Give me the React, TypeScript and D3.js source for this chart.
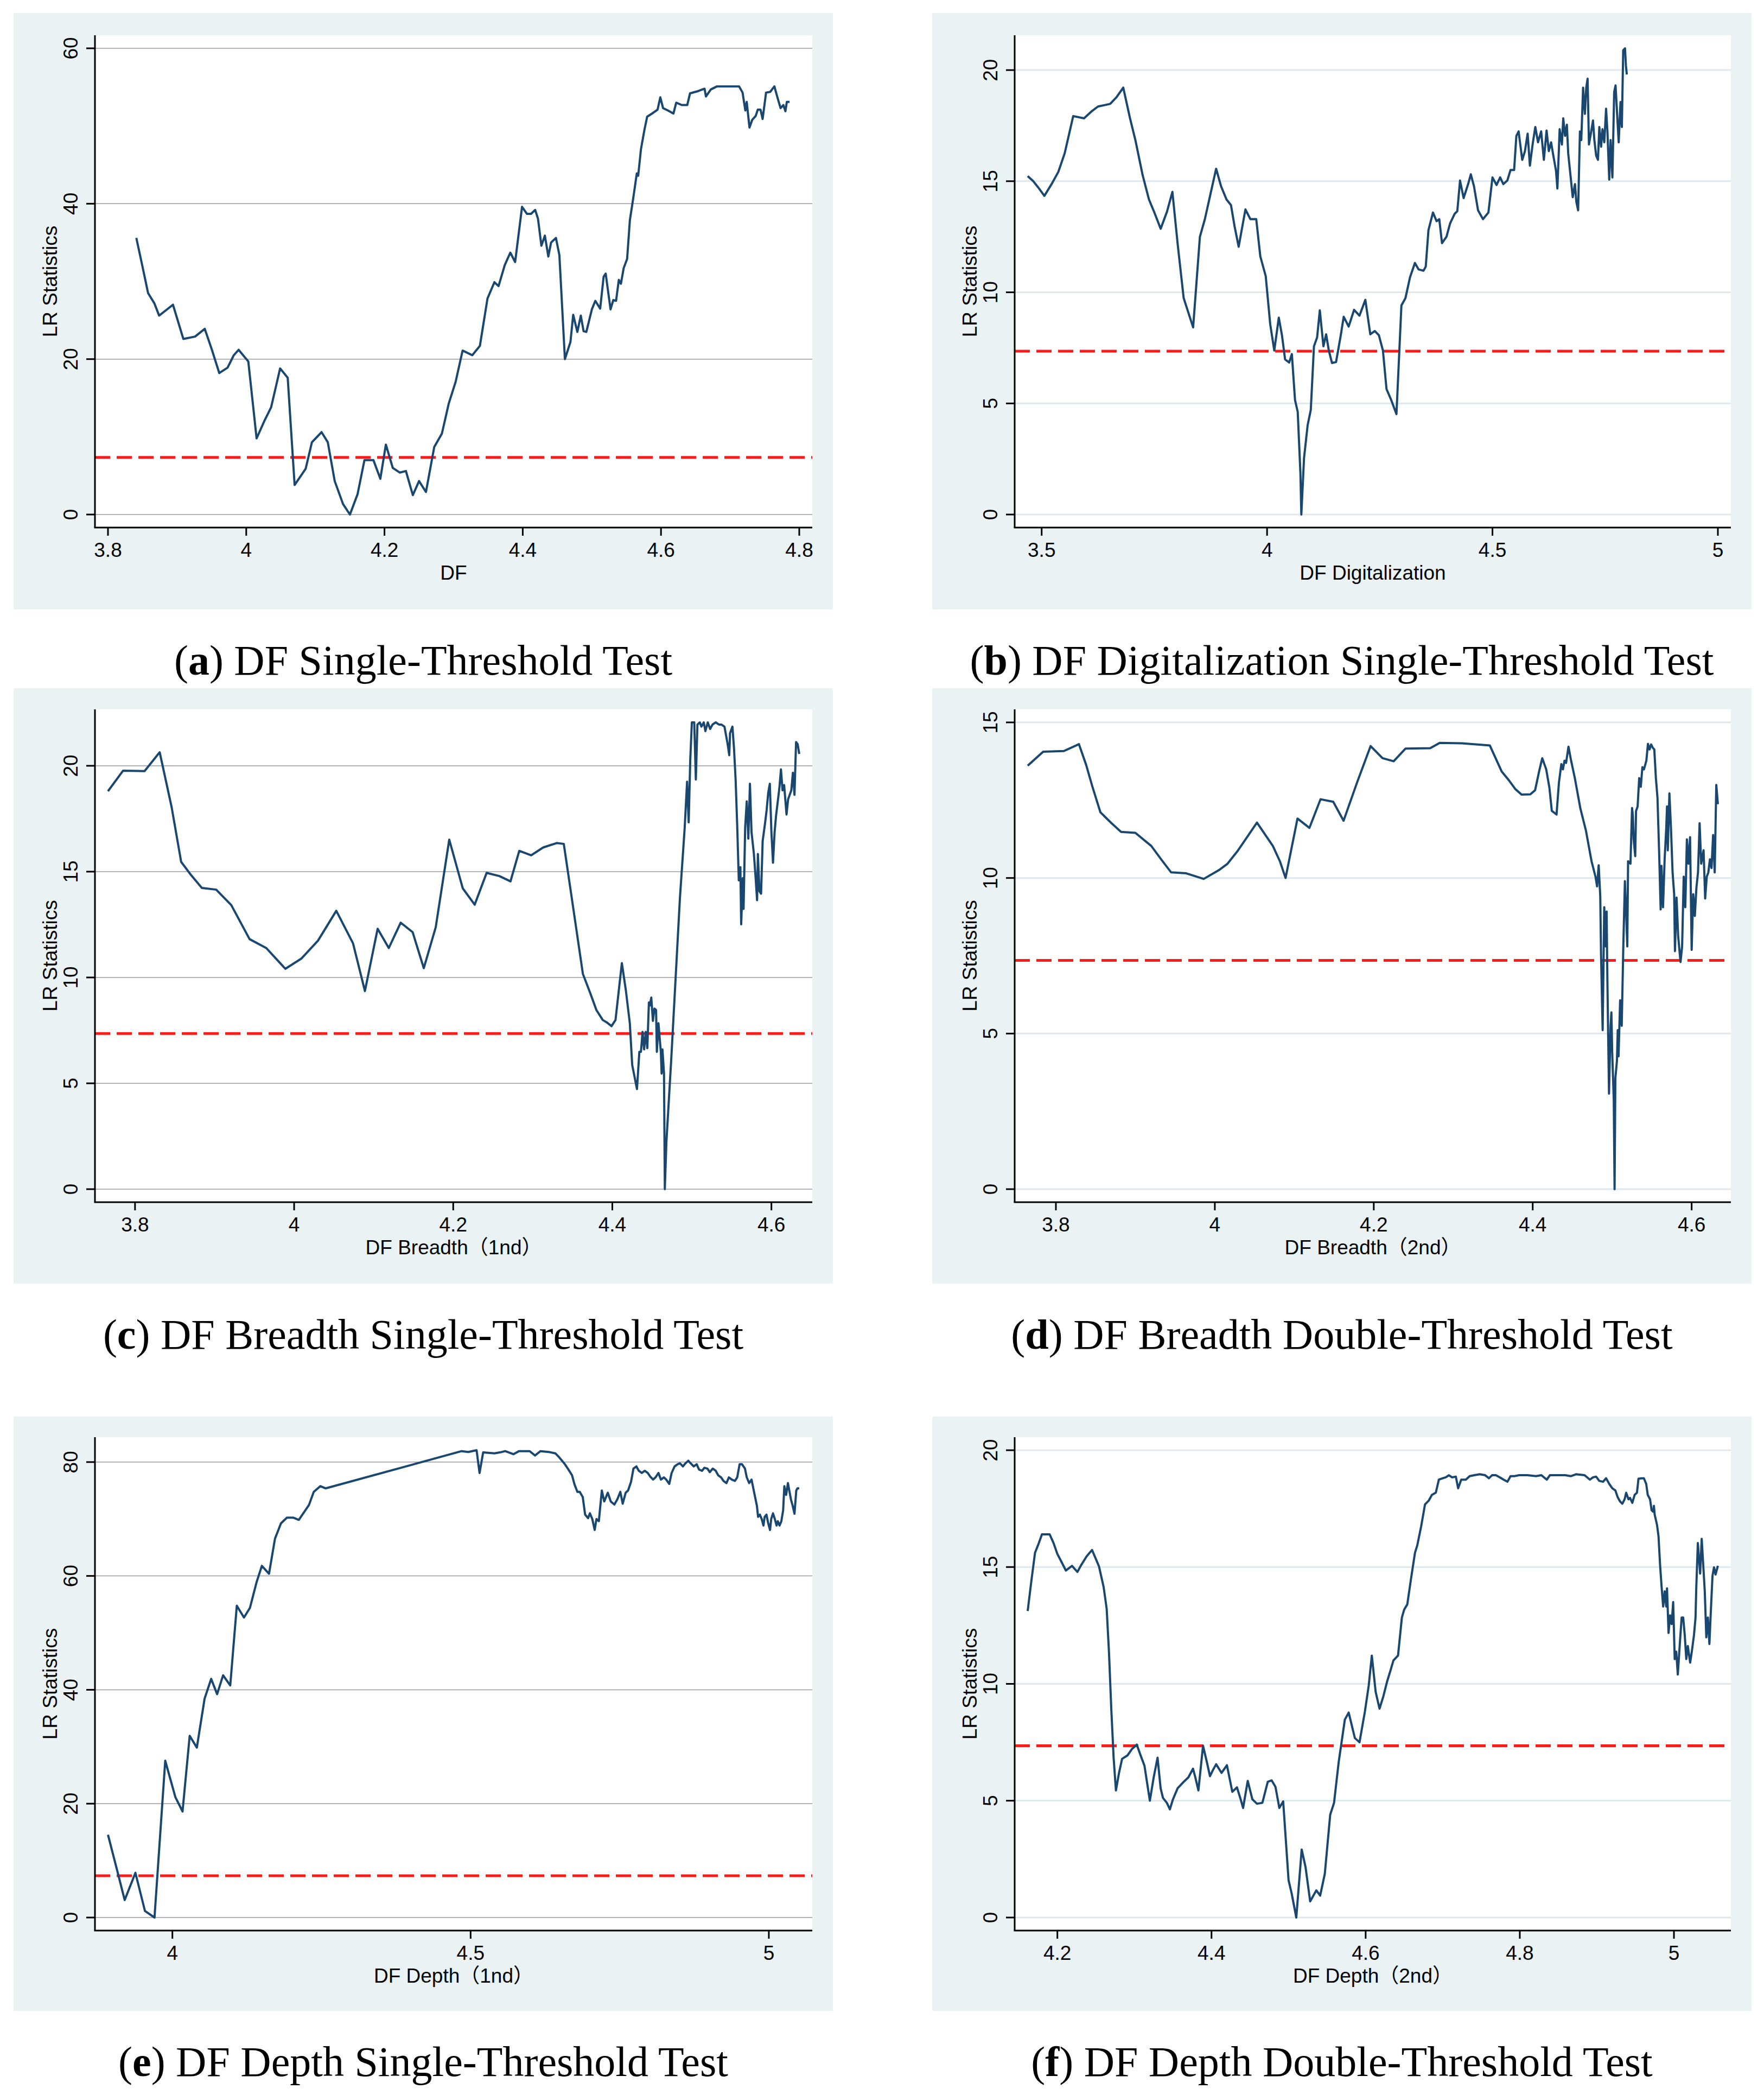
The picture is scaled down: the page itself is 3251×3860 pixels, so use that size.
import { useEffect } from "react";
import * as d3 from "d3";

type Pt = [number, number];

// LR statistic profiles
const dfSingle: Pt[] = [
  [3.841, 35.6], [3.849, 32.3], [3.858, 28.5], [3.867, 27.2], [3.874, 25.6], [3.894, 27.0], [3.909, 22.6],
  [3.926, 22.9], [3.94, 23.9], [3.95, 21.3], [3.961, 18.2], [3.973, 18.9], [3.982, 20.5], [3.989, 21.2],
  [4.003, 19.7], [4.015, 9.8], [4.026, 12.0], [4.036, 13.8], [4.049, 18.8], [4.06, 17.6], [4.07, 3.8],
  [4.086, 5.9], [4.095, 9.3], [4.109, 10.6], [4.118, 9.3], [4.128, 4.3], [4.14, 1.35], [4.15, 0],
  [4.161, 2.6], [4.171, 7.0], [4.184, 7.0], [4.194, 4.6], [4.202, 9.0], [4.212, 6.0], [4.222, 5.4],
  [4.231, 5.6], [4.241, 2.5], [4.25, 4.3], [4.26, 2.9], [4.272, 8.7], [4.283, 10.4], [4.293, 14.3],
  [4.303, 17.1], [4.313, 21.1], [4.327, 20.5], [4.338, 21.7], [4.349, 27.8], [4.359, 29.9], [4.365, 29.4],
  [4.374, 32.1], [4.382, 33.7], [4.389, 32.5], [4.399, 39.6], [4.406, 38.7], [4.412, 38.7], [4.418, 39.2],
  [4.422, 38.1], [4.427, 34.6], [4.432, 35.9], [4.437, 33.2], [4.441, 35.0], [4.448, 35.6], [4.453, 33.4],
  [4.461, 20.0], [4.469, 22.2], [4.473, 25.7], [4.479, 23.5], [4.484, 25.6], [4.488, 23.6], [4.492, 23.5],
  [4.5, 26.4], [4.505, 27.5], [4.512, 26.5], [4.517, 30.6], [4.52, 31.0], [4.527, 26.4], [4.531, 27.6],
  [4.535, 27.5], [4.539, 30.2], [4.542, 29.7], [4.546, 31.7], [4.551, 32.9], [4.555, 37.9], [4.56, 40.8],
  [4.565, 43.9], [4.567, 43.6], [4.571, 47.0], [4.576, 49.5], [4.58, 51.2], [4.587, 51.6], [4.595, 52.1],
  [4.599, 53.7], [4.603, 52.3], [4.61, 52.0], [4.618, 51.6], [4.622, 53.0], [4.63, 52.7], [4.638, 52.7],
  [4.642, 54.2], [4.654, 54.5], [4.663, 54.8], [4.665, 53.8], [4.672, 54.7], [4.681, 55.1], [4.713, 55.1],
  [4.718, 54.3], [4.722, 52.0], [4.724, 53.1], [4.728, 49.8], [4.732, 50.8], [4.737, 51.3], [4.74, 52.1],
  [4.744, 52.1], [4.747, 50.9], [4.752, 54.3], [4.758, 54.4], [4.764, 55.1], [4.769, 53.5], [4.773, 52.3],
  [4.777, 52.7], [4.78, 51.9], [4.782, 53.1], [4.786, 53.1],
];

const dfDigital: Pt[] = [
  [3.469, 15.23], [3.481, 15.01], [3.492, 14.73], [3.506, 14.34], [3.522, 14.87], [3.537, 15.42],
  [3.551, 16.25], [3.57, 17.93], [3.594, 17.83], [3.61, 18.13], [3.625, 18.36], [3.652, 18.48],
  [3.666, 18.78], [3.681, 19.21], [3.696, 17.83], [3.708, 16.84], [3.724, 15.27], [3.738, 14.18],
  [3.75, 13.59], [3.764, 12.86], [3.778, 13.63], [3.79, 14.52], [3.802, 12.11], [3.815, 9.74],
  [3.836, 8.42], [3.851, 12.5], [3.862, 13.29], [3.874, 14.38], [3.887, 15.56], [3.898, 14.77],
  [3.91, 14.18], [3.92, 13.92], [3.928, 12.96], [3.937, 12.05], [3.952, 13.73], [3.963, 13.29],
  [3.976, 13.29], [3.985, 11.62], [3.997, 10.73], [4.007, 8.56], [4.016, 7.38], [4.026, 8.86],
  [4.033, 8.07], [4.04, 6.98], [4.049, 6.84], [4.055, 7.22], [4.062, 5.15], [4.068, 4.62], [4.074, 1.85],
  [4.076, 0], [4.082, 2.54], [4.09, 4.02], [4.097, 4.71], [4.104, 7.57], [4.111, 7.97], [4.117, 9.19],
  [4.125, 7.57], [4.131, 8.11], [4.137, 7.38], [4.144, 6.82], [4.153, 6.86], [4.163, 8.01], [4.17, 8.9],
  [4.181, 8.46], [4.193, 9.21], [4.205, 8.95], [4.218, 9.66], [4.229, 8.11], [4.239, 8.26], [4.248, 8.07],
  [4.257, 7.38], [4.265, 5.64], [4.275, 5.17], [4.287, 4.52], [4.298, 9.41], [4.307, 9.74], [4.317, 10.67],
  [4.328, 11.32], [4.336, 11.03], [4.347, 10.97], [4.352, 11.16], [4.358, 12.8], [4.368, 13.59],
  [4.376, 13.2], [4.382, 13.29], [4.388, 12.21], [4.398, 12.5], [4.406, 13.1], [4.416, 13.53],
  [4.422, 13.65], [4.428, 15.03], [4.436, 14.24], [4.446, 14.87], [4.452, 15.31], [4.459, 14.77],
  [4.468, 13.69], [4.479, 13.29], [4.491, 13.59], [4.5, 15.17], [4.509, 14.83], [4.517, 15.17],
  [4.524, 14.87], [4.533, 15.03], [4.54, 15.5], [4.548, 15.5], [4.553, 17.04], [4.558, 17.24],
  [4.566, 15.96], [4.572, 16.35], [4.578, 17.14], [4.583, 15.7], [4.589, 16.65], [4.595, 17.44],
  [4.601, 16.75], [4.608, 17.24], [4.614, 15.96], [4.62, 17.28], [4.625, 16.35], [4.63, 16.75],
  [4.635, 16.15], [4.641, 15.46], [4.644, 14.67], [4.649, 17.34], [4.654, 16.65], [4.657, 17.83],
  [4.661, 17.04], [4.665, 17.54], [4.668, 16.25], [4.673, 15.27], [4.678, 14.28], [4.683, 14.87],
  [4.686, 14.08], [4.69, 13.69], [4.694, 17.24], [4.697, 16.85], [4.701, 19.21], [4.705, 18.03],
  [4.708, 19.21], [4.711, 19.61], [4.714, 16.65], [4.719, 17.24], [4.723, 17.73], [4.726, 16.85],
  [4.73, 16.15], [4.734, 15.96], [4.737, 17.44], [4.741, 16.55], [4.744, 17.34], [4.748, 16.75],
  [4.752, 18.26], [4.755, 17.24], [4.759, 15.07], [4.762, 16.85], [4.766, 15.17], [4.77, 19.01],
  [4.773, 19.31], [4.777, 17.83], [4.78, 16.75], [4.784, 18.56], [4.787, 17.44], [4.79, 20.89],
  [4.794, 20.98], [4.796, 20.2], [4.798, 19.8],
];

const dfBreadth1: Pt[] = [
  [3.766, 18.8], [3.785, 19.77], [3.812, 19.75], [3.831, 20.64], [3.846, 18.05], [3.858, 15.46],
  [3.87, 14.86], [3.884, 14.23], [3.902, 14.15], [3.921, 13.42], [3.944, 11.81], [3.965, 11.39],
  [3.989, 10.41], [4.009, 10.89], [4.03, 11.74], [4.053, 13.15], [4.074, 11.62], [4.089, 9.36],
  [4.105, 12.3], [4.119, 11.39], [4.134, 12.59], [4.149, 12.14], [4.163, 10.44], [4.178, 12.37],
  [4.195, 16.51], [4.212, 14.21], [4.227, 13.44], [4.242, 14.94], [4.258, 14.79], [4.272, 14.54],
  [4.283, 15.98], [4.298, 15.77], [4.313, 16.14], [4.33, 16.35], [4.339, 16.31], [4.349, 13.76],
  [4.363, 10.17], [4.372, 9.29], [4.38, 8.46], [4.388, 7.99], [4.393, 7.88], [4.399, 7.7], [4.404, 7.99],
  [4.412, 10.68], [4.417, 9.4], [4.422, 7.84], [4.425, 5.87], [4.431, 4.73], [4.434, 6.49], [4.436, 6.49],
  [4.438, 7.43], [4.44, 6.6], [4.442, 7.43], [4.444, 6.66], [4.446, 8.82], [4.447, 8.67], [4.449, 9.05],
  [4.451, 7.95], [4.453, 8.53], [4.455, 8.46], [4.456, 6.49], [4.458, 7.84], [4.461, 6.49], [4.462, 5.46],
  [4.463, 6.6], [4.465, 5.46], [4.466, 0], [4.468, 2.24], [4.474, 6.08], [4.485, 13.76], [4.491, 17.08],
  [4.494, 19.25], [4.496, 17.33], [4.498, 20.29], [4.5, 22.05], [4.503, 22.05], [4.505, 19.35],
  [4.507, 21.95], [4.51, 22.05], [4.512, 21.85], [4.515, 22.05], [4.517, 21.64], [4.52, 22.05],
  [4.523, 21.74], [4.526, 21.95], [4.53, 22.05], [4.534, 21.95], [4.537, 21.95], [4.541, 21.85],
  [4.545, 21.02], [4.547, 20.5], [4.548, 21.54], [4.551, 21.85], [4.553, 20.81], [4.555, 19.35],
  [4.557, 17.18], [4.559, 14.59], [4.561, 15.21], [4.562, 12.51], [4.564, 14.69], [4.565, 13.24],
  [4.567, 17.08], [4.569, 18.32], [4.571, 16.56], [4.573, 19.15], [4.575, 16.87], [4.578, 15.83],
  [4.58, 14.79], [4.582, 13.65], [4.583, 15.83], [4.585, 14.07], [4.587, 13.96], [4.589, 16.45],
  [4.592, 17.28], [4.594, 17.91], [4.596, 18.73], [4.598, 19.15], [4.6, 16.87], [4.602, 15.42],
  [4.604, 16.87], [4.606, 17.7], [4.608, 18.32], [4.61, 18.94], [4.612, 19.83], [4.614, 18.84],
  [4.616, 19.09], [4.619, 17.7], [4.621, 18.42], [4.623, 18.63], [4.625, 18.84], [4.627, 19.67],
  [4.629, 18.63], [4.631, 21.12], [4.633, 21.02], [4.635, 20.56],
];

const dfBreadth2: Pt[] = [
  [3.7645, 13.61], [3.784, 14.06], [3.81, 14.08], [3.829, 14.3], [3.838, 13.64], [3.846, 12.93],
  [3.856, 12.11], [3.87, 11.76], [3.882, 11.48], [3.9, 11.45], [3.92, 11.03], [3.933, 10.58],
  [3.945, 10.18], [3.964, 10.15], [3.986, 9.97], [4.005, 10.25], [4.016, 10.46], [4.029, 10.88],
  [4.053, 11.78], [4.073, 11.03], [4.082, 10.53], [4.089, 10.0], [4.104, 11.91], [4.119, 11.61],
  [4.133, 12.53], [4.149, 12.45], [4.162, 11.84], [4.179, 13.07], [4.196, 14.24], [4.211, 13.85],
  [4.225, 13.75], [4.24, 14.16], [4.271, 14.17], [4.283, 14.34], [4.311, 14.33], [4.346, 14.26],
  [4.361, 13.42], [4.37, 13.14], [4.378, 12.86], [4.386, 12.68], [4.397, 12.69], [4.403, 12.82],
  [4.408, 13.42], [4.412, 13.85], [4.417, 13.49], [4.421, 12.9], [4.424, 12.16], [4.43, 12.04],
  [4.433, 13.07], [4.436, 13.66], [4.438, 13.49], [4.44, 13.77], [4.442, 13.7], [4.445, 14.22],
  [4.448, 13.81], [4.453, 13.21], [4.46, 12.23], [4.467, 11.52], [4.474, 10.54], [4.479, 10.04],
  [4.481, 9.73], [4.483, 10.41], [4.485, 9.41], [4.486, 7.51], [4.488, 5.11], [4.49, 9.06], [4.492, 7.8],
  [4.493, 8.92], [4.494, 6.66], [4.496, 3.07], [4.498, 5.25], [4.499, 5.68], [4.5, 4.41], [4.502, 2.86],
  [4.503, 0], [4.504, 3.56], [4.506, 4.13], [4.507, 5.11], [4.508, 4.27], [4.51, 6.07], [4.512, 5.25],
  [4.514, 7.8], [4.516, 9.9], [4.518, 8.56], [4.519, 7.8], [4.52, 10.54], [4.523, 10.46], [4.525, 12.25],
  [4.526, 12.01], [4.527, 11.24], [4.529, 10.7], [4.53, 12.15], [4.532, 12.3], [4.534, 13.21],
  [4.536, 12.93], [4.538, 13.56], [4.54, 13.49], [4.543, 13.77], [4.545, 14.31], [4.547, 14.13],
  [4.549, 14.29], [4.551, 14.19], [4.553, 14.13], [4.555, 13.21], [4.557, 12.58], [4.559, 10.89],
  [4.561, 8.99], [4.562, 10.39], [4.564, 9.06], [4.566, 10.6], [4.568, 11.59], [4.569, 12.3],
  [4.57, 10.89], [4.572, 12.72], [4.574, 11.59], [4.576, 10.18], [4.578, 9.48], [4.579, 7.65],
  [4.581, 9.37], [4.583, 8.14], [4.586, 7.3], [4.588, 7.8], [4.59, 10.04], [4.592, 9.06], [4.594, 11.24],
  [4.596, 10.46], [4.598, 11.31], [4.6, 7.69], [4.602, 9.48], [4.604, 8.78], [4.606, 9.69], [4.608, 10.18],
  [4.61, 11.76], [4.612, 10.46], [4.615, 10.89], [4.617, 9.34], [4.619, 10.04], [4.621, 10.18],
  [4.623, 10.6], [4.625, 10.32], [4.627, 11.38], [4.629, 10.18], [4.631, 12.99], [4.633, 12.37],
];

const dfDepth1: Pt[] = [
  [3.892, 14.54], [3.906, 8.85], [3.92, 3.08], [3.938, 7.85], [3.954, 1.15], [3.97, 0], [3.988, 27.54],
  [4.005, 21.15], [4.017, 18.62], [4.029, 31.92], [4.041, 29.85], [4.054, 38.46], [4.065, 41.92],
  [4.075, 39.23], [4.085, 42.54], [4.097, 40.77], [4.108, 54.77], [4.12, 52.69], [4.13, 54.38],
  [4.141, 58.85], [4.15, 61.77], [4.162, 60.38], [4.172, 66.54], [4.182, 69.23], [4.192, 70.23],
  [4.203, 70.23], [4.212, 69.85], [4.229, 72.46], [4.237, 74.77], [4.248, 75.77], [4.257, 75.38],
  [4.485, 81.92], [4.496, 81.77], [4.51, 82.08], [4.515, 78.08], [4.521, 81.69], [4.54, 81.54],
  [4.549, 81.69], [4.558, 81.92], [4.572, 81.38], [4.581, 81.92], [4.599, 81.92], [4.608, 81.15],
  [4.617, 81.92], [4.631, 81.77], [4.642, 81.54], [4.649, 80.77], [4.657, 79.77], [4.663, 78.85],
  [4.67, 77.69], [4.674, 76.15], [4.679, 74.77], [4.683, 74.77], [4.688, 73.85], [4.692, 70.77],
  [4.697, 70.15], [4.7, 71.0], [4.704, 70.0], [4.708, 68.08], [4.711, 70.0], [4.715, 69.62], [4.72, 75.0],
  [4.724, 73.08], [4.73, 74.62], [4.735, 73.08], [4.741, 72.54], [4.746, 73.46], [4.751, 74.77],
  [4.755, 72.69], [4.76, 74.62], [4.764, 75.0], [4.769, 76.54], [4.773, 78.85], [4.778, 79.23],
  [4.782, 78.46], [4.787, 78.08], [4.792, 78.46], [4.797, 78.08], [4.801, 77.46], [4.806, 76.92],
  [4.81, 77.31], [4.815, 78.08], [4.819, 76.92], [4.824, 77.31], [4.828, 76.92], [4.833, 76.15],
  [4.837, 78.08], [4.842, 79.23], [4.847, 79.62], [4.851, 79.77], [4.856, 79.23], [4.86, 79.77],
  [4.865, 80.23], [4.869, 79.77], [4.874, 79.23], [4.879, 79.62], [4.883, 78.69], [4.888, 78.46],
  [4.892, 79.0], [4.897, 78.85], [4.901, 78.23], [4.906, 78.85], [4.911, 78.46], [4.915, 77.69],
  [4.92, 77.31], [4.924, 76.69], [4.929, 76.31], [4.933, 77.31], [4.938, 76.92], [4.943, 76.69],
  [4.947, 77.31], [4.951, 79.62], [4.955, 79.62], [4.96, 78.85], [4.963, 77.31], [4.967, 76.31],
  [4.971, 76.92], [4.974, 75.38], [4.977, 73.85], [4.98, 72.31], [4.982, 70.38], [4.985, 70.77],
  [4.988, 70.0], [4.991, 68.85], [4.993, 70.38], [4.996, 70.77], [4.999, 69.23], [5.002, 68.08],
  [5.004, 70.0], [5.007, 71.0], [5.01, 70.0], [5.013, 68.85], [5.015, 69.62], [5.018, 68.85],
  [5.021, 69.62], [5.024, 71.54], [5.026, 75.77], [5.029, 74.23], [5.032, 76.31], [5.035, 74.62],
  [5.037, 73.46], [5.04, 72.31], [5.043, 70.92], [5.046, 75.0], [5.048, 75.38], [5.051, 75.38],
];

const dfDepth2: Pt[] = [
  [4.1615, 13.12], [4.166, 14.34], [4.171, 15.61], [4.176, 16.03], [4.18, 16.4], [4.19, 16.4],
  [4.195, 16.03], [4.2, 15.56], [4.206, 15.18], [4.211, 14.85], [4.219, 15.05], [4.226, 14.79],
  [4.231, 15.09], [4.238, 15.46], [4.245, 15.73], [4.254, 15.03], [4.26, 14.15], [4.264, 13.21],
  [4.267, 11.34], [4.27, 8.9], [4.273, 6.84], [4.276, 5.44], [4.28, 6.19], [4.284, 6.79], [4.291, 6.94],
  [4.297, 7.22], [4.303, 7.4], [4.308, 6.94], [4.313, 6.5], [4.32, 5.0], [4.325, 6.0], [4.33, 6.84],
  [4.334, 5.53], [4.337, 5.12], [4.342, 4.91], [4.346, 4.63], [4.35, 5.06], [4.356, 5.53], [4.364, 5.81],
  [4.37, 6.0], [4.376, 6.37], [4.379, 6.0], [4.383, 5.44], [4.389, 7.35], [4.394, 6.65], [4.398, 6.05],
  [4.402, 6.32], [4.406, 6.56], [4.413, 6.19], [4.42, 6.52], [4.427, 5.38], [4.433, 5.57], [4.437, 5.15],
  [4.441, 4.69], [4.447, 5.85], [4.453, 5.06], [4.459, 4.87], [4.466, 4.91], [4.473, 5.81], [4.478, 5.87],
  [4.483, 5.59], [4.488, 4.69], [4.493, 4.97], [4.5, 1.59], [4.504, 1.03], [4.51, 0], [4.517, 2.91],
  [4.522, 2.16], [4.528, 0.69], [4.536, 1.16], [4.541, 0.94], [4.547, 1.87], [4.554, 4.4], [4.559, 4.91],
  [4.565, 6.65], [4.573, 8.47], [4.578, 8.77], [4.586, 7.68], [4.592, 7.5], [4.599, 8.81], [4.604, 9.93],
  [4.608, 11.21], [4.613, 9.65], [4.618, 8.94], [4.623, 9.47], [4.628, 10.12], [4.632, 10.55],
  [4.636, 11.0], [4.642, 11.21], [4.647, 12.84], [4.65, 13.18], [4.654, 13.4], [4.659, 14.53],
  [4.664, 15.61], [4.667, 15.93], [4.672, 16.74], [4.677, 17.68], [4.682, 17.85], [4.686, 18.09],
  [4.691, 18.18], [4.695, 18.74], [4.7, 18.8], [4.704, 18.84], [4.708, 18.93], [4.712, 18.84],
  [4.717, 18.87], [4.72, 18.37], [4.724, 18.74], [4.73, 18.74], [4.735, 18.89], [4.741, 18.93],
  [4.748, 18.97], [4.755, 18.93], [4.76, 18.8], [4.764, 18.93], [4.769, 18.93], [4.774, 18.84],
  [4.779, 18.74], [4.784, 18.65], [4.788, 18.89], [4.793, 18.89], [4.799, 18.93], [4.81, 18.93],
  [4.821, 18.89], [4.828, 18.93], [4.835, 18.74], [4.839, 18.93], [4.849, 18.93], [4.859, 18.93],
  [4.866, 18.89], [4.873, 18.97], [4.884, 18.93], [4.891, 18.74], [4.895, 18.84], [4.899, 18.87],
  [4.903, 18.69], [4.908, 18.65], [4.912, 18.8], [4.916, 18.56], [4.92, 18.37], [4.924, 18.28],
  [4.927, 17.99], [4.93, 17.81], [4.933, 17.71], [4.936, 17.9], [4.938, 18.18], [4.941, 17.9],
  [4.943, 17.96], [4.946, 17.75], [4.949, 18.09], [4.952, 18.18], [4.954, 18.78], [4.958, 18.8],
  [4.961, 18.8], [4.964, 18.56], [4.966, 18.09], [4.969, 17.9], [4.971, 17.43], [4.973, 17.37],
  [4.974, 17.62], [4.975, 17.24], [4.978, 16.81], [4.98, 16.31], [4.982, 15.09], [4.984, 14.15],
  [4.986, 13.31], [4.988, 13.96], [4.99, 13.31], [4.991, 14.09], [4.993, 12.18], [4.995, 12.93],
  [4.997, 12.56], [4.999, 13.5], [5.001, 11.06], [5.003, 11.38], [5.005, 10.4], [5.008, 11.9],
  [5.01, 12.84], [5.012, 12.84], [5.014, 12.09], [5.016, 11.06], [5.018, 11.62], [5.021, 10.91],
  [5.023, 11.34], [5.026, 12.09], [5.028, 12.84], [5.029, 14.15], [5.031, 16.03], [5.034, 14.72],
  [5.036, 16.21], [5.038, 15.09], [5.04, 13.96], [5.042, 11.99], [5.044, 12.84], [5.046, 11.71],
  [5.048, 13.21], [5.05, 14.62], [5.052, 14.99], [5.054, 14.68], [5.057, 15.05],
];

// 5% critical value of the LR statistic
const CRITICAL = 7.35;

const xTicksA = [3.8, 4, 4.2, 4.4, 4.6, 4.8];
const yTicksA = [0, 20, 40, 60];
const xTicksB = [3.5, 4, 4.5, 5];
const yTicksB = [0, 5, 10, 15, 20];
const xTicksC = [3.8, 4, 4.2, 4.4, 4.6];
const yTicksC = [0, 5, 10, 15, 20];
const xTicksD = [3.8, 4, 4.2, 4.4, 4.6];
const yTicksD = [0, 5, 10, 15];
const xTicksE = [4, 4.5, 5];
const yTicksE = [0, 20, 40, 60, 80];
const xTicksF = [4.2, 4.4, 4.6, 4.8, 5];
const yTicksF = [0, 5, 10, 15, 20];

const SANS = "'Liberation Sans', Arial, 'Noto Sans CJK SC', sans-serif";
const SERIF = "'Liberation Serif', 'Times New Roman', serif";

// page geometry (pixels)
const COL_BG = [[25, 1535], [1718, 3228]];
const COL_PLOT = [[175, 1497], [1870, 3190]];
const ROW_BG = [[24, 1123], [1268, 2365], [2610, 3705]];
const ROW_PLOT = [[65, 972], [1307, 2215], [2648, 3557]];
const PAD = 24;

interface PanelProps {
  col: number;
  row: number;
  data: Pt[];
  xTicks: number[];
  yTicks: number[];
  xTitle: string;
  letter: string;
  title: string;
  gridColor: string;
  gridWidth: number;
}

function Panel({ col, row, data, xTicks, yTicks, xTitle, letter, title, gridColor, gridWidth }: PanelProps) {
  const [bgL, bgR] = COL_BG[col];
  const [bgT, bgB] = ROW_BG[row];
  const [left, right] = COL_PLOT[col];
  const [top, bottom] = ROW_PLOT[row];

  const x = d3
    .scaleLinear()
    .domain(d3.extent([...data.map((d) => d[0]), ...xTicks]) as [number, number])
    .range([left + PAD, right - PAD]);
  const y = d3
    .scaleLinear()
    .domain(d3.extent([...data.map((d) => d[1]), ...yTicks]) as [number, number])
    .range([bottom - PAD, top + PAD]);

  const line = d3
    .line<Pt>()
    .x((d) => x(d[0]))
    .y((d) => y(d[1]));

  const midY = (top + bottom) / 2;
  const midX = (left + right) / 2;

  return (
    <g>
      <rect x={bgL} y={bgT} width={bgR - bgL} height={bgB - bgT} fill="#eaf2f3" />
      <rect x={left} y={top} width={right - left} height={bottom - top} fill="#ffffff" />

      {/* grid lines */}
      {yTicks.map((t) => (
        <line key={"g" + t} x1={left} x2={right} y1={y(t)} y2={y(t)} stroke={gridColor} strokeWidth={gridWidth} />
      ))}

      {/* threshold */}
      <line
        x1={left}
        x2={right}
        y1={y(CRITICAL)}
        y2={y(CRITICAL)}
        stroke="#ff1a1a"
        strokeWidth={5}
        strokeDasharray="28 12"
      />

      <path d={line(data) || ""} fill="none" stroke="#1a476f" strokeWidth={4} strokeLinejoin="round" />

      {/* axes */}
      <line x1={left} x2={left} y1={top} y2={bottom} stroke="#000" strokeWidth={3} />
      <line x1={left - 1.5} x2={right} y1={bottom} y2={bottom} stroke="#000" strokeWidth={3} />

      {xTicks.map((t) => (
        <g key={"x" + t}>
          <line x1={x(t)} x2={x(t)} y1={bottom} y2={bottom + 15} stroke="#000" strokeWidth={3} />
          <text x={x(t)} y={bottom + 54} textAnchor="middle" fontSize={37} fontFamily={SANS} fill="#000">
            {t}
          </text>
        </g>
      ))}
      {yTicks.map((t) => (
        <g key={"y" + t}>
          <line x1={left - 16} x2={left} y1={y(t)} y2={y(t)} stroke="#000" strokeWidth={3} />
          <text
            transform={`translate(${left - 32},${y(t)}) rotate(-90)`}
            textAnchor="middle"
            fontSize={37}
            fontFamily={SANS}
            fill="#000"
          >
            {t}
          </text>
        </g>
      ))}

      <text x={midX} y={bottom + 96} textAnchor="middle" fontSize={37} fontFamily={SANS} fill="#000">
        {xTitle}
      </text>
      <text
        transform={`translate(${left - 70},${midY}) rotate(-90)`}
        textAnchor="middle"
        fontSize={37}
        fontFamily={SANS}
        fill="#000"
      >
        LR Statistics
      </text>

      <text x={(bgL + bgR) / 2} y={bgB + 120} textAnchor="middle" fontSize={78} fontFamily={SERIF} fill="#000">
        (<tspan fontWeight="bold">{letter}</tspan>
        {`) ${title}`}
      </text>
    </g>
  );
}

export default function App() {
  useEffect(() => {
    document.body.style.margin = "0";
  }, []);

  const grayGrid = "#9a9aa6";
  const blueGrid = "#dfe8ee";

  return (
    <svg width={3251} height={3860} viewBox="0 0 3251 3860" style={{ display: "block", background: "#fff" }}>
      <Panel col={0} row={0} data={dfSingle} xTicks={xTicksA} yTicks={yTicksA} xTitle="DF"
        letter="a" title="DF Single-Threshold Test" gridColor={grayGrid} gridWidth={1.5} />
      <Panel col={1} row={0} data={dfDigital} xTicks={xTicksB} yTicks={yTicksB} xTitle="DF Digitalization"
        letter="b" title="DF Digitalization Single-Threshold Test" gridColor={blueGrid} gridWidth={3} />
      <Panel col={0} row={1} data={dfBreadth1} xTicks={xTicksC} yTicks={yTicksC} xTitle="DF Breadth（1nd）"
        letter="c" title="DF Breadth Single-Threshold Test" gridColor={grayGrid} gridWidth={1.5} />
      <Panel col={1} row={1} data={dfBreadth2} xTicks={xTicksD} yTicks={yTicksD} xTitle="DF Breadth（2nd）"
        letter="d" title="DF Breadth Double-Threshold Test" gridColor={blueGrid} gridWidth={3} />
      <Panel col={0} row={2} data={dfDepth1} xTicks={xTicksE} yTicks={yTicksE} xTitle="DF Depth（1nd）"
        letter="e" title="DF Depth Single-Threshold Test" gridColor={grayGrid} gridWidth={1.5} />
      <Panel col={1} row={2} data={dfDepth2} xTicks={xTicksF} yTicks={yTicksF} xTitle="DF Depth（2nd）"
        letter="f" title="DF Depth Double-Threshold Test" gridColor={blueGrid} gridWidth={3} />
    </svg>
  );
}
